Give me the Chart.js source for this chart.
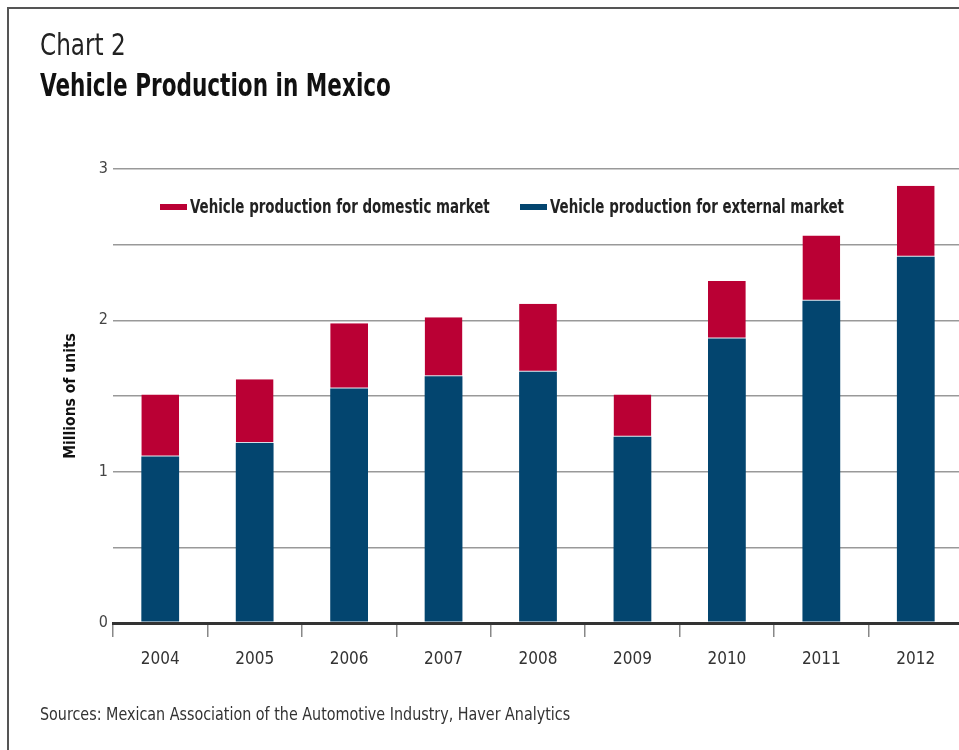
<!DOCTYPE html>
<html>
<head>
<meta charset="utf-8">
<script src="https://cdn.jsdelivr.net/npm/chart.js@4.4.1/dist/chart.umd.min.js"></script>
<style>
    html, body {
        margin: 0;
        padding: 0;
        width: 959px;
        height: 750px;
        overflow: hidden;
        background: #fff;
        font-family: "DejaVu Sans Condensed", "Liberation Sans", sans-serif;
    }
    .frame {
        position: absolute;
        left: 7px;
        top: 7px;
        width: 1000px;
        height: 1000px;
        border-left: 2px solid #555;
        border-top: 2px solid #555;
    }
    .chart-box {
        position: absolute;
        left: 0;
        top: 0;
        width: 970px;
        height: 750px;
    }
    .narrow {
        display: inline-block;
        transform-origin: 0 50%;
        white-space: nowrap;
    }
    .title-small {
        position: absolute;
        left: 40px;
        top: 29px;
        font-size: 31px;
        line-height: 31px;
        color: #222;
    }
    .title-small .narrow { transform: scaleX(0.83); }
    .title-main {
        position: absolute;
        left: 40px;
        top: 69px;
        font-size: 32px;
        line-height: 32px;
        font-weight: bold;
        color: #111;
    }
    .title-main .narrow { transform: scaleX(0.75); }
    .legend-item {
        position: absolute;
        top: 197px;
        font-size: 19px;
        line-height: 19px;
        font-weight: bold;
        color: #222;
        white-space: nowrap;
    }
    .legend-item .swatch {
        position: absolute;
        left: 0;
        top: 7px;
        width: 27px;
        height: 6px;
    }
    .legend-item .narrow {
        margin-left: 30px;
        transform: scaleX(0.785);
    }
    .source {
        position: absolute;
        left: 40px;
        top: 705px;
        font-size: 18px;
        line-height: 18px;
        color: #333;
    }
    .source .narrow { transform: scaleX(0.885); }
</style>
</head>
<body>
<div class="frame"></div>
<div class="chart-box"><canvas id="productionChart"></canvas></div>
<div class="title-small"><span class="narrow">Chart 2</span></div>
<div class="title-main"><span class="narrow">Vehicle Production in Mexico</span></div>
<div class="legend-item" style="left:160px"><span class="swatch" style="background:#BA0034"></span><span class="narrow">Vehicle production for domestic market</span></div>
<div class="legend-item" style="left:520px"><span class="swatch" style="background:#03456F"></span><span class="narrow">Vehicle production for external market</span></div>
<div class="source"><span class="narrow">Sources: Mexican Association of the Automotive Industry, Haver Analytics</span></div>

<script>
// Yıllar ve seriler (milyon adet)
const years = ['2004', '2005', '2006', '2007', '2008', '2009', '2010', '2011', '2012'];
const externalMarket = [1.10, 1.19, 1.55, 1.63, 1.66, 1.23, 1.88, 2.13, 2.42];
const domesticMarket = [0.41, 0.42, 0.43, 0.39, 0.45, 0.28, 0.38, 0.43, 0.47];
const yTickLabels = ['0', '1', '2', '3'];

const fontFamily = '"DejaVu Sans Condensed", "Liberation Sans", sans-serif';

document.addEventListener('DOMContentLoaded', () => {
    const ctx = document.getElementById('productionChart').getContext('2d');
    new Chart(ctx, {
        type: 'bar',
        data: {
            labels: years,
            datasets: [
                {
                    label: 'Vehicle production for external market',
                    data: externalMarket,
                    backgroundColor: '#03456F',
                    barPercentage: 0.4,
                    categoryPercentage: 1.0
                },
                {
                    label: 'Vehicle production for domestic market',
                    data: domesticMarket,
                    backgroundColor: '#BA0034',
                    borderColor: '#d8dde8',
                    borderWidth: { bottom: 1, top: 0, left: 0, right: 0 },
                    borderSkipped: false,
                    barPercentage: 0.4,
                    categoryPercentage: 1.0
                }
            ]
        },
        options: {
            responsive: true,
            maintainAspectRatio: false,
            animation: false,
            layout: {
                padding: { left: 50, top: 169, right: 7, bottom: 67 }
            },
            scales: {
                x: {
                    stacked: true,
                    afterFit: (scale) => { scale.height = 60; },
                    grid: {
                        offset: true,
                        drawOnChartArea: false,
                        drawTicks: true,
                        tickLength: 14,
                        color: '#888',
                        lineWidth: 1.5
                    },
                    border: {
                        display: true,
                        color: '#333',
                        width: 3
                    },
                    ticks: {
                        color: '#333',
                        padding: 12,
                        font: { family: fontFamily, size: 17 }
                    }
                },
                y: {
                    stacked: true,
                    min: 0,
                    max: 3,
                    afterFit: (scale) => { scale.width = 63; },
                    grid: {
                        drawTicks: false,
                        color: (c) => c.tick && c.tick.value === 0 ? '#333' : '#999',
                        lineWidth: (c) => c.tick && c.tick.value === 0 ? 3 : 1.5
                    },
                    border: { display: false },
                    ticks: {
                        stepSize: 0.5,
                        color: '#444',
                        padding: 5,
                        font: { family: fontFamily, size: 16 },
                        callback: function(value) {
                            if (Number.isInteger(value)) {
                                return yTickLabels[value];
                            }
                            return '';
                        }
                    },
                    title: {
                        display: true,
                        text: 'Millions of units',
                        color: '#111',
                        padding: { top: 12, bottom: 0 },
                        font: { family: fontFamily, size: 15.5, weight: 'bold' }
                    }
                }
            },
            plugins: {
                legend: { display: false },
                tooltip: { enabled: false }
            }
        }
    });
});
</script>
</body>
</html>
